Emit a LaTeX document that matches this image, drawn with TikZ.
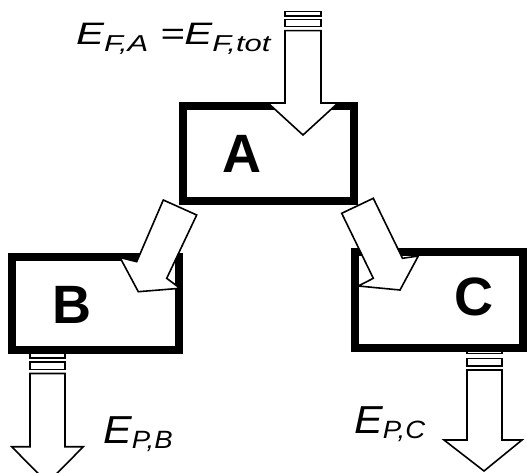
\documentclass[tikz,border=0pt]{standalone}
\usepackage{fontspec}
\usepackage{graphicx}
\newfontfamily\arialf{Liberation Sans}
\tikzset{
  boxstyle/.style={draw=black, fill=white, line width=8pt, inner sep=0pt, rectangle},
  flowarrow/.style={draw=black, fill=white, line width=1.6pt, line join=miter},
  barstyle/.style={draw=black, fill=white, line width=1.3pt},
  boxletter/.style={inner sep=0pt, anchor=base, font=\arialf\bfseries\fontsize{54}{54}\selectfont},
  elabel/.style={inner sep=0pt, anchor=base west, font=\arialf\itshape}
}
\begin{document}
\begin{tikzpicture}[x=1pt,y=-1pt]
\useasboundingbox (0,0) rectangle (527,473);
\clip (0,0) rectangle (527,473);
\fill[white] (0,0) rectangle (527,473);

% bottom arrows (drawn first, boxes overlap them)
\draw[barstyle] (30,351) rectangle (65,358);
\draw[barstyle] (30,362) rectangle (65,369.5);
\draw[flowarrow] (30,373.5) -- (30,446.7) -- (11.7,446.7) -- (47.5,483) -- (83.3,446.7) -- (65,446.7) -- (65,373.5) -- cycle;

\draw[barstyle] (467,349) rectangle (502,353.5);
\draw[barstyle] (467,358.3) rectangle (502,366);
\draw[flowarrow] (467,370) -- (467,440) -- (444,440) -- (484,471) -- (522,440) -- (502,440) -- (502,370) -- cycle;

% boxes
\node[boxstyle, minimum width=171pt, minimum height=94.5pt] (boxA) at (268.8,153.75) {};
\node[boxstyle, minimum width=167.5pt, minimum height=93pt] (boxB) at (95.25,303.5) {};
\node[boxstyle, minimum width=168pt, minimum height=96pt] (boxC) at (439,300) {};

\node[boxletter] (letA) at (241.5,173) {A};
\node[boxletter] (letB) at (72,323) {B};
\node[boxletter] (letC) at (474,315) {C};

% top arrow into A
\draw[barstyle] (285,11.7) rectangle (321,16);
\draw[barstyle] (285,19.3) rectangle (321,26.7);
\draw[flowarrow] (285,30.7) -- (285,103) -- (268,103) -- (303,135) -- (338,103) -- (321,103) -- (321,30.7) -- cycle;

% A -> B
\draw[flowarrow] (163.3,200) -- (196.7,215) -- (166.7,278.3) -- (180,288.3) -- (138.3,291.7) -- (120,257.5) -- (136.7,261.7) -- cycle;
% A -> C
\draw[flowarrow] (341.7,213.3) -- (373.3,198.3) -- (402.5,258.3) -- (418.3,256) -- (400,290) -- (358.3,286) -- (373.3,278.3) -- cycle;

% labels
\node[elabel] (lblF) at (76,45) {\scalebox{1.35}[1]{\fontsize{31}{31}\selectfont E\raisebox{-7pt}{\fontsize{23}{23}\selectfont F,A} =E\raisebox{-7pt}{\fontsize{23}{23}\selectfont F,tot}}};
\node[elabel] (lblPB) at (103,443) {\scalebox{1.1}[1]{\fontsize{39}{39}\selectfont E\raisebox{-5pt}{\fontsize{25}{25}\selectfont P,B}}};
\node[elabel] (lblPC) at (354,433) {\scalebox{1.1}[1]{\fontsize{39}{39}\selectfont E\raisebox{-5pt}{\fontsize{25}{25}\selectfont P,C}}};
\end{tikzpicture}
\end{document}
